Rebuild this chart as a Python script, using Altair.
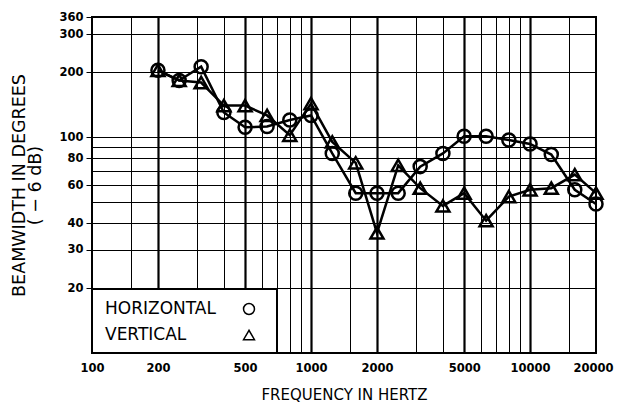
import altair as alt
import pandas as pd

freq = [200, 250, 315, 400, 500, 630, 800, 1000, 1250, 1600, 2000, 2500,
        3150, 4000, 5000, 6300, 8000, 10000, 12500, 16000, 20000]
horizontal = [204, 183, 212, 130, 111, 112, 120, 126, 84, 55, 55, 55,
              73, 84, 101, 101, 97, 93, 83, 57, 49]
vertical = [204, 183, 179, 140, 140, 126, 102, 143, 95, 76, 36, 74,
            58, 48, 55, 41, 53, 57, 58, 67, 55]

x_grid = [100, 150, 200, 300, 400, 500, 600, 700, 800, 900, 1000, 1500, 2000,
          3000, 4000, 5000, 6000, 7000, 8000, 9000, 10000, 15000, 20000]
x_labels = [100, 200, 500, 1000, 2000, 5000, 10000, 20000]
x_major = [200, 500, 1000, 2000, 5000, 10000]
y_grid = [20, 30, 40, 50, 60, 70, 80, 90, 100, 200, 300, 360]
y_labels = [20, 30, 40, 60, 80, 100, 200, 300, 360]

series_names = ["HORIZONTAL", "VERTICAL"]
series_shapes = ["circle", "triangle-up"]

rows = []
for f, h, v in zip(freq, horizontal, vertical):
    rows.append({"freq": f, "bw": h, "series": series_names[0]})
    rows.append({"freq": f, "bw": v, "series": series_names[1]})
df = pd.DataFrame(rows)
legend_df = pd.DataFrame({"label": series_names, "shape": series_shapes})


def in_list(lst):
    return "indexof([" + ",".join(str(v) for v in lst) + "], datum.value) >= 0"


x_axis = alt.Axis(
    values=x_grid, title="FREQUENCY IN HERTZ",
    labelExpr=in_list(x_labels) + " ? '' + datum.value : ''",
    ticks=False, domain=False, labelPadding=9, labelFlush=False,
    labelOverlap=False, titlePadding=14,
    labelOffset={"condition": {"test": "datum.value == 20000", "value": -3}, "value": 0},
    gridColor="black",
    gridWidth={"condition": {"test": in_list(x_major), "value": 2.2}, "value": 1},
)
y_axis = alt.Axis(
    values=y_grid, title=["BEAMWIDTH IN DEGREES", "( \u2212 6 dB)"],
    labelExpr=in_list(y_labels) + " ? '' + datum.value : ''",
    domain=False, tickSize=6, labelPadding=3, labelFlush=False,
    labelOverlap=False, titlePadding=14, titleLineHeight=16,
    tickColor="black",
    tickOpacity={"condition": {"test": in_list(y_labels), "value": 1}, "value": 0},
    gridColor="black", gridWidth=1,
)

xs = alt.Scale(type="log", domain=[100, 20000], nice=False, zero=False)
ys = alt.Scale(type="log", domain=[10, 360], nice=False, zero=False)

base = alt.Chart(df).encode(
    x=alt.X("freq:Q", scale=xs, axis=x_axis),
    y=alt.Y("bw:Q", scale=ys, axis=y_axis),
)

lines = base.mark_line(color="black", strokeWidth=2.5).encode(detail="series:N")
points = base.mark_point(filled=False, color="black", strokeWidth=2.5, size=170, opacity=1).encode(
    shape=alt.Shape("series:N", scale=alt.Scale(domain=series_names, range=series_shapes), legend=None)
)

legend_box = alt.Chart(legend_df).transform_filter(alt.datum.label == series_names[0]).mark_rect(
    fill="white", stroke="black", strokeWidth=2
).encode(x=alt.value(0), x2=alt.value(185), y=alt.value(272), y2=alt.value(336))

leg_text_h = alt.Chart(legend_df).transform_filter(alt.datum.label == series_names[0]).mark_text(
    align="left", baseline="middle", font="DejaVu Sans", fontSize=17, color="black"
).encode(x=alt.value(13), y=alt.value(292), text="label:N")
leg_text_v = alt.Chart(legend_df).transform_filter(alt.datum.label == series_names[1]).mark_text(
    align="left", baseline="middle", font="DejaVu Sans", fontSize=17, color="black"
).encode(x=alt.value(13), y=alt.value(318), text="label:N")
leg_sym_h = alt.Chart(legend_df).transform_filter(alt.datum.label == series_names[0]).mark_point(
    filled=False, color="black", strokeWidth=1.5, size=120, shape="circle", opacity=1
).encode(x=alt.value(157), y=alt.value(292))
leg_sym_v = alt.Chart(legend_df).transform_filter(alt.datum.label == series_names[1]).mark_point(
    filled=False, color="black", strokeWidth=1.5, size=120, shape="triangle-up", opacity=1
).encode(x=alt.value(157), y=alt.value(318))

chart = alt.layer(
    lines, points, legend_box, leg_text_h, leg_text_v, leg_sym_h, leg_sym_v
).properties(
    width=504, height=336,
    autosize=alt.AutoSizeParams(type="none"),
    padding={"left": 84, "top": 9, "right": 19, "bottom": 54},
    background="white",
).configure_view(
    stroke="black", strokeWidth=2
).configure_axis(
    labelFont="DejaVu Sans", labelFontSize=11.5, labelFontWeight="bold", labelColor="black",
    titleFont="DejaVu Sans", titleFontSize=15, titleFontWeight="normal", titleColor="black",
    gridOpacity=1,
).configure_axisY(
    titleFontSize=17.5
)

chart.save("out.html", embed_options={"renderer": "svg", "actions": False})
